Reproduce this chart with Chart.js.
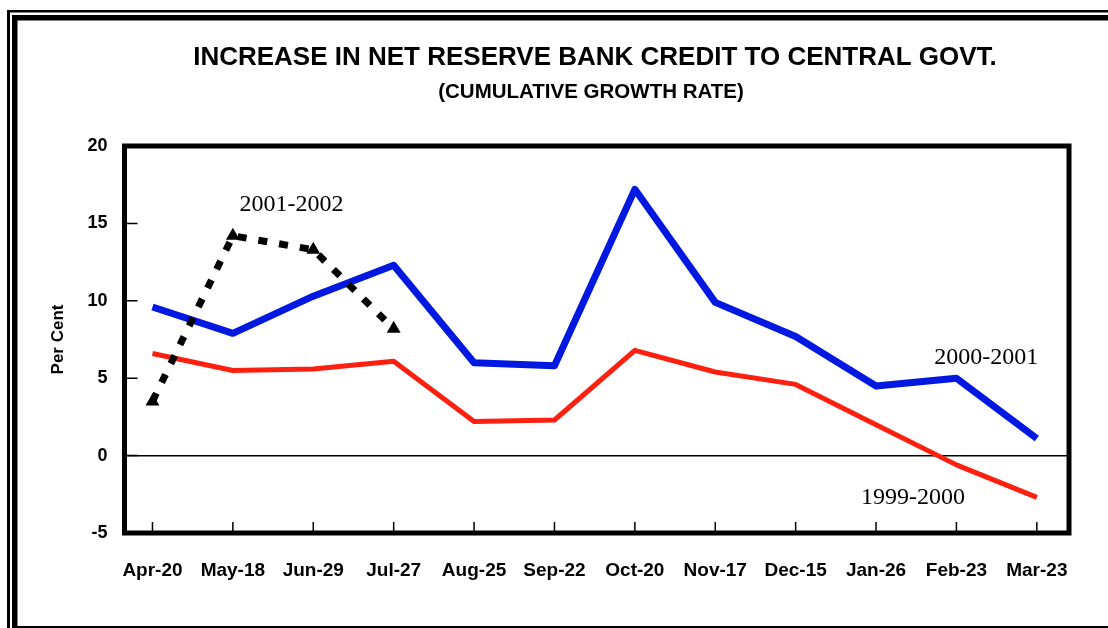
<!DOCTYPE html>
<html>
<head>
<meta charset="utf-8">
<script src="https://cdn.jsdelivr.net/npm/chart.js@4.4.1/dist/chart.umd.min.js"></script>
<style>
    html, body { margin: 0; padding: 0; background: #fff; }
    #wrap { position: relative; width: 1108px; height: 628px; }
</style>
</head>
<body>
<div id="wrap"><canvas id="chart"></canvas></div>
<script>
// categories and series
const categories = ['Apr-20', 'May-18', 'Jun-29', 'Jul-27', 'Aug-25', 'Sep-22',
                    'Oct-20', 'Nov-17', 'Dec-15', 'Jan-26', 'Feb-23', 'Mar-23'];
const series2000 = [9.6, 7.9, 10.3, 12.3, 6.0, 5.8, 17.2, 9.9, 7.7, 4.5, 5.0, 1.1];
const series1999 = [6.6, 5.5, 5.6, 6.1, 2.2, 2.3, 6.8, 5.4, 4.6, 2.0, -0.6, -2.7];
const series2001 = [3.5, 14.2, 13.3, 8.2];
const yTicks = [-5, 0, 5, 10, 15, 20];

const chartTitle = 'INCREASE IN NET RESERVE BANK CREDIT TO CENTRAL GOVT.';
const chartSubtitle = '(CUMULATIVE GROWTH RATE)';

// text labels placed next to each line (data coordinates)
const lineLabels = [
    { text: '2001-2002', x: 1.73, y: 16.2 },
    { text: '2000-2001', x: 10.37, y: 6.3 },
    { text: '1999-2000', x: 9.46, y: -2.75 }
];

const toPoints = arr => arr.map((v, i) => ({ x: i, y: v }));
const sans = '"Liberation Sans", Arial, sans-serif';

// outer double frame and the headings
const framePlugin = {
    id: 'frame',
    beforeDraw(chart) {
        const c = chart.ctx;
        c.save();
        c.fillStyle = '#fff';
        c.fillRect(0, 0, chart.width, chart.height);
        c.fillStyle = '#000';
        c.fillRect(7, 10, 3, 618);
        c.fillRect(7, 10, 1101, 2.5);
        c.fillRect(12, 15, 5.5, 613);
        c.fillRect(12, 15, 1096, 5.5);
        c.fillRect(12, 626, 1096, 2.5);

        c.textAlign = 'center';
        c.textBaseline = 'alphabetic';
        c.font = 'bold 26px ' + sans;
        c.fillText(chartTitle, 595, 65);
        c.font = 'bold 20.5px ' + sans;
        c.fillText(chartSubtitle, 591, 98);
        c.restore();
    }
};

// plot box, inward ticks and the line labels
const boxPlugin = {
    id: 'box',
    afterDatasetsDraw(chart) {
        const c = chart.ctx;
        const a = chart.chartArea;
        const xs = chart.scales.x;
        const ys = chart.scales.y;
        c.save();
        c.strokeStyle = '#000';
        c.lineWidth = 1.5;
        c.beginPath();
        ys.ticks.forEach(t => {
            const py = ys.getPixelForValue(t.value);
            c.moveTo(a.left, py);
            c.lineTo(a.left + 13, py);
        });
        xs.ticks.forEach(t => {
            const px = xs.getPixelForValue(t.value);
            c.moveTo(px, a.bottom);
            c.lineTo(px, a.bottom - 11);
        });
        c.stroke();

        c.lineWidth = 5;
        c.strokeRect(a.left, a.top, a.right - a.left, a.bottom - a.top);

        c.fillStyle = '#000';
        c.font = '24px "Liberation Serif", "Times New Roman", serif';
        c.textAlign = 'center';
        c.textBaseline = 'middle';
        lineLabels.forEach(l => {
            c.fillText(l.text, xs.getPixelForValue(l.x), ys.getPixelForValue(l.y));
        });
        c.restore();
    }
};

const boldFont = size => ({ family: sans, size: size, weight: 'bold' });

new Chart(document.getElementById('chart'), {
    type: 'line',
    data: {
        datasets: [
            {
                label: '2001-2002',
                data: toPoints(series2001),
                borderColor: '#000',
                backgroundColor: '#000',
                borderWidth: 7,
                borderDash: [9, 12],
                pointStyle: 'triangle',
                pointRadius: 8,
                pointBorderWidth: 0,
                order: 0
            },
            {
                label: '2000-2001',
                data: toPoints(series2000),
                borderColor: '#0018E0',
                borderWidth: 7,
                pointRadius: 0,
                order: 1
            },
            {
                label: '1999-2000',
                data: toPoints(series1999),
                borderColor: '#FF2010',
                borderWidth: 5,
                pointRadius: 0,
                order: 2
            }
        ]
    },
    options: {
        responsive: true,
        maintainAspectRatio: false,
        animation: false,
        devicePixelRatio: 1,
        elements: { line: { tension: 0, borderJoinStyle: 'round' } },
        layout: { padding: { left: 40, right: 39, top: 146, bottom: 35 } },
        plugins: {
            legend: { display: false },
            tooltip: { enabled: false },
            title: { display: false }
        },
        scales: {
            x: {
                type: 'linear',
                min: -0.348,
                max: 11.4,
                afterFit: s => { s.height = 60; },
                afterBuildTicks: s => { s.ticks = categories.map((c, i) => ({ value: i })); },
                ticks: {
                    autoSkip: false,
                    maxRotation: 0,
                    padding: 18.6,
                    color: '#000',
                    font: boldFont(19),
                    callback: v => categories[v]
                },
                grid: { display: false },
                border: { display: false }
            },
            y: {
                min: -5,
                max: 20,
                afterFit: s => { s.width = 84.5; },
                afterBuildTicks: s => { s.ticks = yTicks.map(v => ({ value: v })); },
                ticks: {
                    padding: 17,
                    color: '#000',
                    font: boldFont(18)
                },
                grid: {
                    drawTicks: false,
                    color: c => (c.tick && c.tick.value === 0 ? '#000' : 'rgba(0,0,0,0)'),
                    lineWidth: 1.5
                },
                border: { display: false },
                title: {
                    display: true,
                    text: 'Per Cent',
                    color: '#000',
                    font: boldFont(17),
                    padding: { top: 7.8, bottom: 0 }
                }
            }
        }
    },
    plugins: [framePlugin, boxPlugin]
});
</script>
</body>
</html>
